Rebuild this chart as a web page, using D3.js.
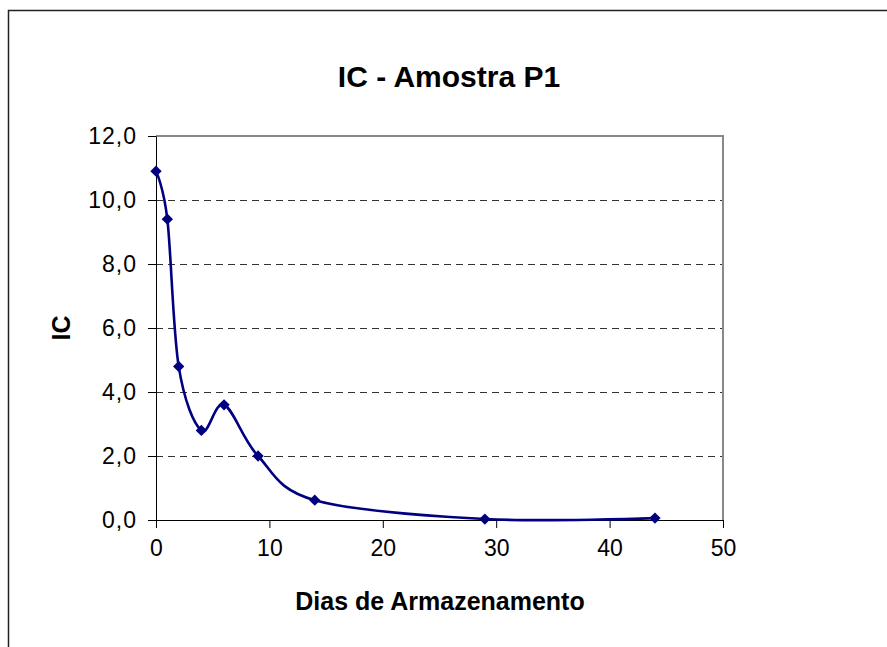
<!DOCTYPE html>
<html>
  <head>
    <meta charset="utf-8">
    <title>IC - Amostra P1</title>
    <script src="https://d3js.org/d3.v7.min.js"></script>
    <style>
      body { margin: 0; background: #fff; }
      svg { display: block; }
    </style>
  </head>
  <body>
    <svg id="chart" width="887" height="647"></svg>
    <script>
      // data
      var dias = [0, 1, 2, 4, 6, 9, 14, 29, 44];
      var ic = [10.9, 9.4, 4.8, 2.8, 3.6, 2.0, 0.62, 0.03, 0.06];
      var xTicks = [0, 10, 20, 30, 40, 50];
      var yTicks = [0, 2, 4, 6, 8, 10, 12];

      var points = dias.map(function(d, i) { return { x: d, y: ic[i] }; });
      var font = "Arial, 'Liberation Sans', sans-serif";

      var svg = d3.select("#chart").attr("font-family", font);
      var margin = { top: 136, right: 164, bottom: 127, left: 156 };
      var width = 887, height = 647;

      var x = d3.scaleLinear().domain([0, 50]).range([margin.left, width - margin.right]);
      var y = d3.scaleLinear().domain([0, 12]).range([height - margin.bottom, margin.top]);

      // outer frame (runs off the right and bottom edges)
      svg.append("rect")
        .attr("x", 8.5).attr("y", 10.5)
        .attr("width", 900).attr("height", 700)
        .attr("fill", "none").attr("stroke", "#222").attr("stroke-width", 1.5);

      // gridlines
      svg.append("g")
        .selectAll("line")
          .data(yTicks.slice(1, -1))
        .enter().append("line")
          .attr("x1", x(0)).attr("x2", x(50))
          .attr("y1", function(d) { return y(d) + 0.5; })
          .attr("y2", function(d) { return y(d) + 0.5; })
          .attr("stroke", "#333")
          .attr("stroke-dasharray", "7,5");

      // plot area border top and right
      svg.append("path")
        .attr("d", "M" + x(0) + "," + y(12) + "H" + x(50) + "V" + y(0))
        .attr("fill", "none").attr("stroke", "#888").attr("stroke-width", 2);

      var fmt = function(d) { return d3.format(".1f")(d).replace(".", ","); };

      var xAxis = d3.axisBottom(x).tickValues(xTicks).tickSize(8).tickPadding(12).tickSizeOuter(0);
      var yAxis = d3.axisLeft(y).tickValues(yTicks).tickSize(8).tickPadding(11).tickFormat(fmt).tickSizeOuter(0);

      var gx = svg.append("g")
        .attr("transform", "translate(0," + y(0) + ")")
        .call(xAxis);
      var gy = svg.append("g")
        .attr("transform", "translate(" + x(0) + ",0)")
        .call(yAxis);
      [gx, gy].forEach(function(g) {
        g.attr("font-size", 23).attr("font-family", font);
        g.selectAll("text").attr("fill", "#000");
      });
      gy.selectAll("text").attr("letter-spacing", 1);

      // smoothed line like the spreadsheet one
      var line = d3.line()
        .x(function(d) { return x(d.x); })
        .y(function(d) { return y(d.y); })
        .curve(d3.curveCardinal.tension(0));

      svg.append("path")
        .datum(points)
        .attr("d", line)
        .attr("fill", "none")
        .attr("stroke", "#000080")
        .attr("stroke-width", 2.6);

      svg.append("g")
        .selectAll("path")
          .data(points)
        .enter().append("path")
          .attr("d", d3.symbol().type(d3.symbolSquare).size(64))
          .attr("transform", function(d) { return "translate(" + x(d.x) + "," + y(d.y) + ") rotate(45)"; })
          .attr("fill", "#000080");

      // titles
      svg.append("text")
        .attr("x", 449).attr("y", 87)
        .attr("text-anchor", "middle")
        .attr("font-size", 30).attr("font-weight", "bold")
        .text("IC - Amostra P1");
      svg.append("text")
        .attr("x", 440).attr("y", 610)
        .attr("text-anchor", "middle")
        .attr("font-size", 25).attr("font-weight", "bold")
        .text("Dias de Armazenamento");
      svg.append("text")
        .attr("transform", "translate(70,328) rotate(-90)")
        .attr("text-anchor", "middle")
        .attr("font-size", 25).attr("font-weight", "bold")
        .text("IC");
    </script>
  </body>
</html>
